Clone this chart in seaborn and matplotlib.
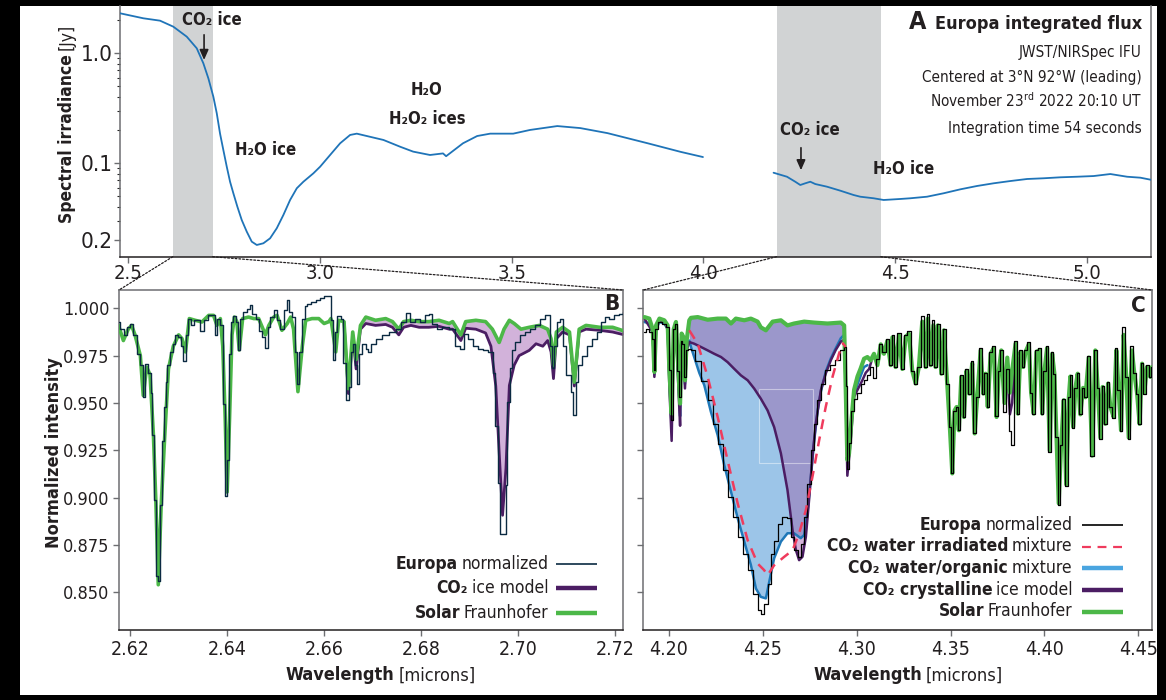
import numpy as np
import matplotlib
matplotlib.use("Agg")
import matplotlib.pyplot as plt
import seaborn as sns
from matplotlib.patches import ConnectionPatch, Rectangle
from matplotlib.lines import Line2D
from matplotlib.ticker import FixedLocator, LogLocator, NullFormatter

# ------------------------------------------------------------------ data
# Panel A: Europa integrated flux (Jy)
a_wl_1 = [2.4783, 2.5391, 2.5827, 2.6174, 2.6524, 2.6785, 2.6957, 2.7088, 2.7218, 2.7307,
          2.7393, 2.7479, 2.7568, 2.7654, 2.7740, 2.7845, 2.7959, 2.8090, 2.8220, 2.8351,
          2.8523, 2.8698, 2.8873, 2.9045, 2.9220, 2.9395, 2.9567, 2.9828, 3.0003, 3.0264,
          3.0525, 3.0786, 3.0960, 3.1221, 3.1655, 3.2090, 3.2430, 3.2870, 3.3210, 3.3290,
          3.3730, 3.4100, 3.4440, 3.5040, 3.5480, 3.6190, 3.6790, 3.7500, 3.8550, 3.9410,
          3.9990]
a_flux_1 = [2.31, 2.08, 1.979, 1.745, 1.416, 1.11, 0.811, 0.592, 0.403, 0.285,
            0.186, 0.132, 0.0931, 0.068, 0.0534, 0.0403, 0.0305, 0.0239, 0.0194, 0.0181,
            0.01875, 0.0208, 0.0257, 0.0339, 0.0464, 0.0593, 0.068, 0.0811, 0.0931, 0.119,
            0.152, 0.181, 0.186, 0.177, 0.163, 0.1415, 0.1277, 0.119, 0.123, 0.116,
            0.152, 0.177, 0.186, 0.186, 0.201, 0.218, 0.209, 0.188, 0.152, 0.127,
            0.114]
a_wl_2 = [4.1832, 4.2182, 4.2398, 4.2529, 4.2659, 4.2790, 4.2920, 4.3225, 4.3572, 4.3920,
          4.4094, 4.4442, 4.4703, 4.5139, 4.5399, 4.5835, 4.6268, 4.6704, 4.7139, 4.7572,
          4.8009, 4.8445, 4.8878, 4.9314, 4.9749, 5.0183, 5.0618, 5.1054, 5.1401, 5.1707]
a_flux_2 = [0.0821, 0.0755, 0.068, 0.0635, 0.0658, 0.068, 0.0648, 0.0613, 0.0564, 0.0515,
            0.0497, 0.0481, 0.0464, 0.0474, 0.0481, 0.0497, 0.0534, 0.058, 0.0622, 0.0658,
            0.069, 0.072, 0.0731, 0.0746, 0.0755, 0.0766, 0.0799, 0.0755, 0.074, 0.0705]
a_xticks = [2.5, 3.0, 3.5, 4.0, 4.5, 5.0]
a_xticklabels = ["2.5", "3.0", "3.5", "4.0", "4.5", "5.0"]
a_yticks = [1.0, 0.1, 0.02]
a_yticklabels = ["1.0", "0.1", "0.2"]
span_b = [2.616, 2.720]
span_c = [4.191, 4.463]

# Panel B
b_solar_wl = [2.6176, 2.6186, 2.6196, 2.6203, 2.6210, 2.6221, 2.6227, 2.6234, 2.6241, 2.6248,
              2.6253, 2.6258, 2.6264, 2.6271, 2.6279, 2.6289, 2.6300, 2.6307, 2.6314, 2.6322,
              2.6334, 2.6348, 2.6362, 2.6372, 2.6379, 2.6386, 2.6391, 2.6396, 2.6400, 2.6405,
              2.6410, 2.6415, 2.6420, 2.6425, 2.6432, 2.6444, 2.6455, 2.6465, 2.6479, 2.6486,
              2.6496, 2.6503, 2.6513, 2.6524, 2.6531, 2.6537, 2.6546, 2.6555, 2.6562, 2.6575,
              2.6589, 2.6600, 2.6610, 2.6614, 2.6624, 2.6630, 2.6641, 2.6650, 2.6659, 2.6666,
              2.6675, 2.6686, 2.6706, 2.6727, 2.6741, 2.6754, 2.6764, 2.6779, 2.6796, 2.6816,
              2.6837, 2.6858, 2.6865, 2.6882, 2.6892, 2.6913, 2.6933, 2.6947, 2.6961, 2.6971,
              2.6982, 2.6992, 2.7006, 2.7023, 2.7044, 2.7061, 2.7068, 2.7073, 2.7079, 2.7092,
              2.7106, 2.7116, 2.7126, 2.7140, 2.7168, 2.7195, 2.7219]
b_solar = [0.991, 0.983, 0.989, 0.991, 0.986, 0.975, 0.954, 0.969, 0.965, 0.933,
           0.898, 0.854, 0.896, 0.931, 0.968, 0.980, 0.986, 0.984, 0.977, 0.9946,
           0.9937, 0.9928, 0.9963, 0.9963, 0.991, 0.9946, 0.980, 0.942, 0.903, 0.942,
           0.986, 0.9954, 0.993, 0.978, 0.9946, 0.9954, 0.9946, 0.9946, 0.986, 0.991,
           0.9954, 0.9963, 0.9884, 0.992, 0.9954, 0.989, 0.956, 0.980, 0.9937, 0.9946,
           0.9946, 0.992, 0.993, 0.9946, 0.977, 0.9937, 0.993, 0.9576, 0.9875, 0.973,
           0.991, 0.9954, 0.9937, 0.9946, 0.993, 0.989, 0.993, 0.9937, 0.993, 0.993,
           0.9937, 0.992, 0.993, 0.986, 0.993, 0.9937, 0.993, 0.989, 0.982, 0.989,
           0.9937, 0.992, 0.989, 0.990, 0.991, 0.989, 0.984, 0.970, 0.9875, 0.990,
           0.9875, 0.961, 0.989, 0.991, 0.990, 0.990, 0.988]
b_co2_wl = [2.6641, 2.6650, 2.6659, 2.6666, 2.6675, 2.6686, 2.6706, 2.6727, 2.6741, 2.6754,
            2.6764, 2.6779, 2.6796, 2.6816, 2.6837, 2.6858, 2.6865, 2.6882, 2.6892, 2.6913,
            2.6933, 2.6944, 2.6954, 2.6961, 2.6968, 2.6975, 2.6982, 2.6992, 2.7002, 2.7023,
            2.7037, 2.7051, 2.7061, 2.7068, 2.7073, 2.7079, 2.7092, 2.7106, 2.7116, 2.7126,
            2.7140, 2.7168, 2.7195, 2.7219]
b_co2 = [0.993, 0.955, 0.986, 0.968, 0.989, 0.992, 0.991, 0.9915, 0.990, 0.986,
         0.990, 0.991, 0.990, 0.990, 0.9905, 0.989, 0.989, 0.983, 0.9895, 0.989,
         0.987, 0.980, 0.959, 0.924, 0.8907, 0.9155, 0.9593, 0.970, 0.975, 0.9778,
         0.9813, 0.980, 0.983, 0.977, 0.9629, 0.984, 0.9875, 0.986, 0.959, 0.9875,
         0.989, 0.9884, 0.9875, 0.986]
b_europa_wl = [2.6176, 2.6183, 2.6190, 2.6196, 2.6203, 2.6210, 2.6217, 2.6224, 2.6227, 2.6234,
               2.6241, 2.6244, 2.6248, 2.6251, 2.6255, 2.6260, 2.6264, 2.6269, 2.6272, 2.6275,
               2.6279, 2.6284, 2.6291, 2.6296, 2.6303, 2.6307, 2.6312, 2.6317, 2.6322, 2.6327,
               2.6338, 2.6349, 2.6356, 2.6365, 2.6372, 2.6376, 2.6382, 2.6389, 2.6394, 2.6398,
               2.6401, 2.6405, 2.6410, 2.6415, 2.6420, 2.6423, 2.6429, 2.6437, 2.6444, 2.6449,
               2.6455, 2.6462, 2.6468, 2.6475, 2.6482, 2.6486, 2.6492, 2.6500, 2.6506, 2.6513,
               2.6520, 2.6525, 2.6531, 2.6537, 2.6542, 2.6546, 2.6551, 2.6558, 2.6562, 2.6569,
               2.6578, 2.6589, 2.6596, 2.6603, 2.6614, 2.6615, 2.6620, 2.6624, 2.6631, 2.6637,
               2.6642, 2.6648, 2.6653, 2.6658, 2.6662, 2.6666, 2.6669, 2.6675, 2.6682, 2.6689,
               2.6693, 2.6700, 2.6713, 2.6727, 2.6741, 2.6755, 2.6764, 2.6773, 2.6782, 2.6792,
               2.6803, 2.6813, 2.6820, 2.6827, 2.6837, 2.6851, 2.6865, 2.6875, 2.6885, 2.6892,
               2.6903, 2.6913, 2.6923, 2.6934, 2.6944, 2.6951, 2.6955, 2.6961, 2.6966, 2.6973,
               2.6976, 2.6980, 2.6985, 2.6989, 2.6999, 2.7009, 2.7020, 2.7030, 2.7040, 2.7051,
               2.7058, 2.7063, 2.7068, 2.7073, 2.7077, 2.7082, 2.7089, 2.7096, 2.7100, 2.7106,
               2.7111, 2.7117, 2.7121, 2.7126, 2.7137, 2.7147, 2.7158, 2.7168, 2.7176, 2.7182,
               2.7192, 2.7203, 2.7213, 2.7219]
b_europa = [0.9928, 0.989, 0.986, 0.990, 0.992, 0.986, 0.976, 0.970, 0.953, 0.9705,
            0.966, 0.9555, 0.933, 0.899, 0.8586, 0.856, 0.896, 0.930, 0.948, 0.961,
            0.970, 0.977, 0.981, 0.986, 0.985, 0.980, 0.972, 0.986, 0.9946, 0.991,
            0.9937, 0.988, 0.9937, 0.9966, 0.9963, 0.986, 0.9946, 0.991, 0.9497, 0.9007,
            0.9198, 0.9757, 0.993, 0.996, 0.993, 0.978, 0.9946, 0.998, 0.9998, 1.0016,
            0.997, 0.9946, 0.988, 0.985, 0.979, 0.990, 0.9954, 0.999, 0.9937, 0.989,
            0.999, 1.0045, 0.998, 0.9954, 0.977, 0.960, 0.977, 0.9946, 1.0012, 1.0025,
            1.0034, 1.0045, 1.0054, 1.0063, 1.0063, 0.9937, 0.9727, 0.9875, 0.996, 0.9946,
            0.9709, 0.9515, 0.9585, 0.977, 0.9813, 0.970, 0.960, 0.9757, 0.981, 0.9786,
            0.977, 0.9813, 0.984, 0.986, 0.9875, 0.989, 0.993, 0.9975, 0.993, 0.9946,
            0.993, 0.9963, 0.997, 0.992, 0.989, 0.990, 0.989, 0.980, 0.9787, 0.9867,
            0.984, 0.980, 0.9787, 0.978, 0.977, 0.966, 0.938, 0.908, 0.881, 0.881,
            0.9067, 0.9507, 0.9683, 0.978, 0.9823, 0.986, 0.9875, 0.989, 0.991, 0.9946,
            0.9963, 0.9963, 0.980, 0.9683, 0.980, 0.993, 0.9946, 0.980, 0.965, 0.965,
            0.956, 0.9436, 0.961, 0.970, 0.975, 0.980, 0.984, 0.9875, 0.993, 0.9954,
            0.9946, 0.9963, 0.997, 0.998]
b_yticks = [0.850, 0.875, 0.900, 0.925, 0.950, 0.975, 1.000]
b_yticklabels = ["0.850", "0.875", "0.900", "0.925", "0.950", "0.975", "1.000"]
b_xticks = [2.62, 2.64, 2.66, 2.68, 2.70, 2.72]
b_xticklabels = ["2.62", "2.64", "2.66", "2.68", "2.70", "2.72"]

# Panel C
c_solar_wl = [4.1869, 4.1895, 4.1913, 4.1922, 4.1931, 4.1949, 4.1975, 4.1993, 4.2002, 4.2014,
              4.2025, 4.2037, 4.2050, 4.2059, 4.2067, 4.2076, 4.2085, 4.2094, 4.2108, 4.2117,
              4.2153, 4.2206, 4.2259, 4.2303, 4.2330, 4.2356, 4.2401, 4.2436, 4.2472, 4.2489,
              4.2516, 4.2552, 4.2596, 4.2631, 4.2666, 4.2720, 4.2773, 4.2844, 4.2915, 4.2933,
              4.2941, 4.2950, 4.2959, 4.2972, 4.2986, 4.3004, 4.3021, 4.3039, 4.3057, 4.3074,
              4.3092, 4.3110, 4.3128, 4.3145, 4.3163, 4.3181, 4.3190, 4.3207, 4.3225, 4.3243,
              4.3261, 4.3278, 4.3296, 4.3314, 4.3331, 4.3349, 4.3367, 4.3379, 4.3394, 4.3408,
              4.3420, 4.3432, 4.3451, 4.3464, 4.3482, 4.3496, 4.3509, 4.3521, 4.3532, 4.3544,
              4.3557, 4.3571, 4.3585, 4.3600, 4.3615, 4.3628, 4.3642, 4.3660, 4.3674, 4.3686,
              4.3698, 4.3713, 4.3730, 4.3745, 4.3757, 4.3770, 4.3787, 4.3802, 4.3816, 4.3828,
              4.3846, 4.3858, 4.3872, 4.3887, 4.3899, 4.3917, 4.3929, 4.3943, 4.3957, 4.3975,
              4.3988, 4.4000, 4.4014, 4.4028, 4.4041, 4.4053, 4.4064, 4.4076, 4.4089, 4.4103,
              4.4116, 4.4130, 4.4138, 4.4153, 4.4165, 4.4177, 4.4191, 4.4206, 4.4218, 4.4236,
              4.4254, 4.4271, 4.4284, 4.4298, 4.4310, 4.4324, 4.4339, 4.4351, 4.4369, 4.4383,
              4.4395, 4.4408, 4.4422, 4.4436, 4.4449, 4.4466, 4.4479, 4.4493, 4.4507, 4.4520,
              4.4532, 4.4546, 4.4564, 4.4573]
c_solar = [0.9954, 0.9946, 0.989, 0.9664, 0.991, 0.9946, 0.9937, 0.991, 0.9672, 0.9444,
           0.989, 0.9928, 0.967, 0.9497, 0.9867, 0.985, 0.962, 0.983, 0.9937, 0.995,
           0.9954, 0.994, 0.9946, 0.9946, 0.992, 0.9946, 0.9937, 0.9946, 0.993, 0.990,
           0.9884, 0.993, 0.9937, 0.991, 0.992, 0.993, 0.9925, 0.992, 0.9925, 0.991,
           0.9588, 0.920, 0.9233, 0.941, 0.957, 0.964, 0.9683, 0.9734, 0.9743, 0.9725,
           0.976, 0.970, 0.981, 0.976, 0.9828, 0.970, 0.9847, 0.969, 0.9857, 0.968,
           0.985, 0.9866, 0.967, 0.9603, 0.969, 0.993, 0.969, 0.9946, 0.970, 0.991,
           0.969, 0.991, 0.9655, 0.9884, 0.9603, 0.9374, 0.9128, 0.946, 0.9479, 0.9356,
           0.9638, 0.9426, 0.967, 0.955, 0.9708, 0.9339, 0.9532, 0.9778, 0.955, 0.9655,
           0.948, 0.976, 0.979, 0.9426, 0.967, 0.9778, 0.950, 0.974, 0.9555, 0.967,
           0.9813, 0.9444, 0.977, 0.969, 0.977, 0.981, 0.9555, 0.9444, 0.977, 0.978,
           0.9444, 0.967, 0.979, 0.925, 0.976, 0.9655, 0.932, 0.897, 0.928, 0.9515,
           0.907, 0.9532, 0.964, 0.9374, 0.958, 0.9655, 0.944, 0.958, 0.953, 0.974,
           0.9222, 0.9778, 0.958, 0.9317, 0.9585, 0.939, 0.9603, 0.948, 0.9426, 0.9778,
           0.957, 0.9356, 0.986, 0.9638, 0.9317, 0.9778, 0.9655, 0.9555, 0.939, 0.9708,
           0.9555, 0.969, 0.9638, 0.969]
c_europa_wl = [4.1869, 4.1887, 4.1904, 4.1913, 4.1922, 4.1931, 4.1949, 4.1975, 4.1993, 4.2002,
               4.2014, 4.2025, 4.2037, 4.2050, 4.2059, 4.2067, 4.2076, 4.2085, 4.2094, 4.2108,
               4.2126, 4.2153, 4.2188, 4.2223, 4.2250, 4.2277, 4.2303, 4.2330, 4.2356, 4.2383,
               4.2410, 4.2436, 4.2463, 4.2480, 4.2499, 4.2516, 4.2534, 4.2552, 4.2569, 4.2596,
               4.2613, 4.2640, 4.2658, 4.2676, 4.2693, 4.2711, 4.2729, 4.2746, 4.2764, 4.2782,
               4.2800, 4.2818, 4.2844, 4.2871, 4.2897, 4.2924, 4.2936, 4.2945, 4.2954, 4.2964,
               4.2977, 4.2995, 4.3012, 4.3030, 4.3048, 4.3066, 4.3078, 4.3096, 4.3113, 4.3128,
               4.3145, 4.3163, 4.3181, 4.3190, 4.3207, 4.3225, 4.3243, 4.3261, 4.3278, 4.3296,
               4.3314, 4.3331, 4.3349, 4.3367, 4.3379, 4.3394, 4.3408, 4.3420, 4.3432, 4.3451,
               4.3464, 4.3482, 4.3496, 4.3509, 4.3521, 4.3532, 4.3544, 4.3557, 4.3571, 4.3585,
               4.3600, 4.3615, 4.3628, 4.3642, 4.3660, 4.3674, 4.3686, 4.3698, 4.3713, 4.3730,
               4.3745, 4.3757, 4.3770, 4.3787, 4.3802, 4.3816, 4.3828, 4.3846, 4.3858, 4.3872,
               4.3887, 4.3899, 4.3917, 4.3929, 4.3943, 4.3957, 4.3975, 4.3988, 4.4000, 4.4014,
               4.4028, 4.4041, 4.4053, 4.4064, 4.4076, 4.4089, 4.4103, 4.4116, 4.4130, 4.4138,
               4.4153, 4.4165, 4.4177, 4.4191, 4.4206, 4.4218, 4.4236, 4.4254, 4.4271, 4.4284,
               4.4298, 4.4310, 4.4324, 4.4339, 4.4351, 4.4369, 4.4383, 4.4395, 4.4408, 4.4422,
               4.4436, 4.4449, 4.4466, 4.4479, 4.4493, 4.4507, 4.4520, 4.4532, 4.4546, 4.4564,
               4.4573]
c_europa = [0.9875, 0.989, 0.9875, 0.984, 0.9672, 0.989, 0.993, 0.992, 0.990, 0.9672,
            0.941, 0.989, 0.992, 0.967, 0.953, 0.983, 0.981, 0.9637, 0.9778, 0.9787,
            0.9778, 0.972, 0.9617, 0.9515, 0.939, 0.9286, 0.9145, 0.9004, 0.8898, 0.8793,
            0.8705, 0.8617, 0.849, 0.8405, 0.8388, 0.844, 0.8546, 0.8705, 0.877, 0.8862,
            0.8898, 0.8890, 0.8793, 0.8722, 0.8687, 0.8757, 0.8898, 0.9074, 0.9250, 0.939,
            0.9515, 0.9603, 0.9672, 0.970, 0.9726, 0.9778, 0.9796, 0.9589, 0.915, 0.929,
            0.946, 0.952, 0.9555, 0.960, 0.9621, 0.9647, 0.969, 0.963, 0.9734, 0.981,
            0.977, 0.984, 0.970, 0.986, 0.969, 0.987, 0.968, 0.986, 0.988, 0.967,
            0.9603, 0.969, 0.996, 0.969, 0.997, 0.970, 0.994, 0.969, 0.992, 0.9655,
            0.989, 0.9603, 0.9374, 0.913, 0.946, 0.948, 0.9356, 0.965, 0.9426, 0.968,
            0.955, 0.972, 0.934, 0.953, 0.979, 0.955, 0.966, 0.948, 0.977, 0.980,
            0.943, 0.967, 0.978, 0.945, 0.968, 0.935, 0.928, 0.983, 0.9444, 0.978,
            0.969, 0.978, 0.982, 0.9555, 0.944, 0.978, 0.979, 0.944, 0.967, 0.980,
            0.924, 0.977, 0.9655, 0.932, 0.896, 0.928, 0.952, 0.906, 0.953, 0.965,
            0.937, 0.958, 0.966, 0.944, 0.958, 0.953, 0.975, 0.922, 0.978, 0.958,
            0.931, 0.959, 0.939, 0.961, 0.948, 0.942, 0.979, 0.957, 0.935, 0.990,
            0.964, 0.931, 0.980, 0.966, 0.955, 0.939, 0.971, 0.955, 0.970, 0.964,
            0.969]
c_org_wl = [4.1869, 4.1895, 4.1913, 4.1922, 4.1931, 4.1949, 4.1975, 4.1993, 4.2002, 4.2014,
            4.2025, 4.2037, 4.2050, 4.2059, 4.2067, 4.2076, 4.2085, 4.2094, 4.2108, 4.2117,
            4.2135, 4.2161, 4.2188, 4.2223, 4.2259, 4.2294, 4.2330, 4.2366, 4.2401, 4.2436,
            4.2463, 4.2489, 4.2516, 4.2534, 4.2560, 4.2596, 4.2631, 4.2666, 4.2702, 4.2720,
            4.2738, 4.2755, 4.2773, 4.2791, 4.2809, 4.2835, 4.2862, 4.2888, 4.2915, 4.2933,
            4.2941, 4.2950, 4.2964, 4.2986, 4.3012, 4.3039, 4.3057]
c_org = [0.9928, 0.992, 0.987, 0.965, 0.989, 0.9928, 0.992, 0.989, 0.962, 0.937,
         0.988, 0.991, 0.962, 0.943, 0.985, 0.983, 0.960, 0.981, 0.983, 0.9796,
         0.974, 0.966, 0.9594, 0.9454, 0.9331, 0.9173, 0.9032, 0.8891, 0.8768, 0.8645,
         0.852, 0.8476, 0.8468, 0.8556, 0.868, 0.8768, 0.8812, 0.8812, 0.8786, 0.8803,
         0.8926, 0.9102, 0.9296, 0.9454, 0.956, 0.9666, 0.9736, 0.9789, 0.9842, 0.986,
         0.967, 0.9187, 0.934, 0.955, 0.962, 0.969, 0.970]
c_co2_wl = [4.1869, 4.1913, 4.1922, 4.1931, 4.1949, 4.1975, 4.1993, 4.2002, 4.2014, 4.2025,
            4.2037, 4.2050, 4.2059, 4.2067, 4.2076, 4.2085, 4.2094, 4.2108, 4.2135, 4.2170,
            4.2206, 4.2241, 4.2277, 4.2312, 4.2347, 4.2383, 4.2419, 4.2454, 4.2489, 4.2525,
            4.2560, 4.2596, 4.2631, 4.2658, 4.2676, 4.2693, 4.2711, 4.2729, 4.2746, 4.2764,
            4.2782, 4.2809, 4.2835, 4.2862, 4.2888, 4.2915, 4.2933, 4.2941, 4.2950, 4.2964,
            4.2986, 4.3012, 4.3030, 4.3048, 4.3066, 4.3078]
c_co2 = [0.9946, 0.9875, 0.9638, 0.990, 0.9937, 0.993, 0.989, 0.958, 0.930, 0.9875,
         0.991, 0.958, 0.938, 0.983, 0.9796, 0.9577, 0.9778, 0.9822, 0.9813, 0.9796,
         0.9778, 0.976, 0.9743, 0.9716, 0.9681, 0.9646, 0.962, 0.9576, 0.9523, 0.9461,
         0.9373, 0.9234, 0.9041, 0.8829, 0.8723, 0.8670, 0.8688, 0.8793, 0.8987, 0.9216,
         0.9392, 0.9568, 0.9656, 0.9726, 0.9780, 0.9824, 0.9833, 0.9588, 0.9116, 0.926,
         0.9533, 0.9585, 0.962, 0.966, 0.968, 0.972]
c_co2_wl2 = [4.3757, 4.3770, 4.3787, 4.3802, 4.3816, 4.3828, 4.3846]
c_co2_2 = [0.967, 0.975, 0.952, 0.966, 0.944, 0.950, 0.981]
c_irr_wl = [4.2108, 4.2153, 4.2206, 4.2259, 4.2312, 4.2366, 4.2419, 4.2472, 4.2507, 4.2525,
            4.2560, 4.2613, 4.2658, 4.2693, 4.2729, 4.2764, 4.2800, 4.2835, 4.2871, 4.2906,
            4.2927, 4.2941]
c_irr = [0.9884, 0.9813, 0.9638, 0.9427, 0.9198, 0.8969, 0.8775, 0.8652, 0.8617, 0.859,
         0.8643, 0.8687, 0.8722, 0.8811, 0.8934, 0.911, 0.9304, 0.9480, 0.9638, 0.9762,
         0.9815, 0.9796]
c_xticks = [4.20, 4.25, 4.30, 4.35, 4.40, 4.45]
c_xticklabels = ["4.20", "4.25", "4.30", "4.35", "4.40", "4.45"]

# ------------------------------------------------------------------ style
sns.set_theme(style="ticks")
FAM = ["Liberation Sans Narrow", "DejaVu Sans"]
plt.rcParams["font.family"] = FAM
plt.rcParams["font.stretch"] = "condensed"
plt.rcParams["mathtext.fontset"] = "custom"
plt.rcParams["mathtext.rm"] = "DejaVu Sans"
plt.rcParams["mathtext.bf"] = "DejaVu Sans:bold"
plt.rcParams["mathtext.it"] = "DejaVu Sans:italic"

W, H = 1166, 700
TXT = "#231f20"
SPINE = "#6d6e71"
C_TOP = "#1f74b8"
C_GREEN = "#4cb848"
C_PURPLE = "#4b1d63"
C_BLUE = "#1f78b8"
C_BLUE_H = "#4aa5e0"
C_RED = "#ef3b5d"
C_EUR_B = "#0b2a42"


def fx(px):
    return px / W


def fy(py):
    return 1 - py / H


fig = plt.figure(figsize=(W / 100, H / 100), dpi=100, facecolor="black")
fig.add_artist(Rectangle((fx(20), fy(695)), (1157 - 20) / W, (695 - 6) / H,
                         transform=fig.transFigure, facecolor="white",
                         edgecolor="none", zorder=-5))

axA = fig.add_axes([fx(120), fy(256.7), (1151 - 120) / W, (256.7 - 6) / H])
axB = fig.add_axes([fx(119), fy(630), (623.3 - 119) / W, (630 - 290) / H])
axC = fig.add_axes([fx(643.3), fy(630), (1152 - 643.3) / W, (630 - 290) / H])

for ax in (axA, axB, axC):
    ax.set_facecolor("white")
    for s in ax.spines.values():
        s.set_color(SPINE)
        s.set_linewidth(1.1)
    ax.spines["bottom"].set_color(TXT)
    ax.tick_params(colors=SPINE, labelcolor=TXT, direction="out")
axA.spines["top"].set_visible(False)

# ------------------------------------------------------------------ panel A
axA.set_yscale("log")
axA.axvspan(span_b[0], span_b[1], color="#d1d3d4", lw=0, zorder=0)
axA.axvspan(span_c[0], span_c[1], color="#d1d3d4", lw=0, zorder=0)
sns.lineplot(x=a_wl_1, y=a_flux_1, ax=axA, color=C_TOP, linewidth=1.3,
             estimator=None, sort=False, zorder=3)
sns.lineplot(x=a_wl_2, y=a_flux_2, ax=axA, color=C_TOP, linewidth=1.3,
             estimator=None, sort=False, zorder=3)
axA.set_xlim(2.4783, 5.1678)
axA.set_ylim(0.01416, 2.69)
axA.xaxis.set_major_locator(FixedLocator(a_xticks))
axA.set_xticklabels(a_xticklabels)
axA.yaxis.set_major_locator(FixedLocator(a_yticks))
axA.set_yticklabels(a_yticklabels)
axA.yaxis.set_minor_locator(LogLocator(base=10, subs=np.arange(2, 10)))
axA.yaxis.set_minor_formatter(NullFormatter())
axA.tick_params(axis="x", which="major", labelsize=14.5, length=4, width=1, pad=1)
axA.tick_params(axis="y", which="major", labelsize=16, length=4, width=1, pad=1.5)
axA.tick_params(axis="y", which="minor", length=2.5, width=0.8)
axA.set_xlabel("")
axA.set_ylabel("")

axA.annotate("", xy=(2.6976, 0.82), xytext=(2.6976, 1.56),
             arrowprops=dict(arrowstyle="-|>,head_length=0.5,head_width=0.22",
                             color=TXT, lw=1.2), zorder=5)
axA.annotate("", xy=(4.2547, 0.0816), xytext=(4.2547, 0.1467),
             arrowprops=dict(arrowstyle="-|>,head_length=0.5,head_width=0.22",
                             color=TXT, lw=1.2), zorder=5)

# ------------------------------------------------------------------ panel B
bgrid = np.union1d(b_solar_wl, b_co2_wl)
bgrid = bgrid[(bgrid >= b_co2_wl[0]) & (bgrid <= b_co2_wl[-1])]
bs = np.interp(bgrid, b_solar_wl, b_solar)
bc = np.interp(bgrid, b_co2_wl, b_co2)
axB.fill_between(bgrid, bc, bs, where=bs >= bc, interpolate=True,
                 color="#d2b2da", lw=0, zorder=1)
sns.lineplot(x=b_co2_wl, y=b_co2, ax=axB, color=C_PURPLE, linewidth=2.0,
             estimator=None, sort=False, zorder=2)
sns.lineplot(x=b_solar_wl, y=b_solar, ax=axB, color=C_GREEN, linewidth=2.6,
             estimator=None, sort=False, zorder=3)
sns.lineplot(x=b_europa_wl, y=b_europa, ax=axB, color=C_EUR_B, linewidth=1.0,
             drawstyle="steps-mid", estimator=None, sort=False, zorder=4)
axB.set_xlim(2.6177, 2.7217)
axB.set_ylim(0.8301, 1.0097)
axB.xaxis.set_major_locator(FixedLocator(b_xticks))
axB.set_xticklabels(b_xticklabels)
axB.yaxis.set_major_locator(FixedLocator(b_yticks))
axB.set_yticklabels(b_yticklabels)
axB.tick_params(axis="x", labelsize=14, length=4.5, width=1, pad=2.5)
axB.tick_params(axis="y", labelsize=13, length=4.5, width=1, pad=2.5)
axB.set_xlabel("")
axB.set_ylabel("")

# ------------------------------------------------------------------ panel C
cgrid = np.union1d(np.union1d(c_solar_wl, c_org_wl), c_co2_wl)
cgrid = cgrid[(cgrid >= 4.2108) & (cgrid <= 4.2945)]
cs = np.interp(cgrid, c_solar_wl, c_solar)
cp = np.interp(cgrid, c_co2_wl, c_co2)
cb = np.interp(cgrid, c_org_wl, c_org)
axC.fill_between(cgrid, cp, cs, where=cs >= cp, interpolate=True,
                 color="#9b97cb", lw=0, zorder=1)
axC.fill_between(cgrid, cb, cp, where=cp >= cb, interpolate=True,
                 color="#9cc5e8", lw=0, zorder=1)
axC.fill_between(cgrid, cp, cb, where=cb >= cp, interpolate=True,
                 color="#d5b3da", lw=0, zorder=1)
axC.add_patch(Rectangle((4.2479, 0.9181), 4.2766 - 4.2479, 0.9572 - 0.9181,
                        fill=False, edgecolor="white", lw=0.8, alpha=0.45, zorder=1.5))
sns.lineplot(x=c_org_wl, y=c_org, ax=axC, color=C_BLUE, linewidth=1.8,
             estimator=None, sort=False, zorder=2)
sns.lineplot(x=c_co2_wl, y=c_co2, ax=axC, color=C_PURPLE, linewidth=1.8,
             estimator=None, sort=False, zorder=2.5)
sns.lineplot(x=c_co2_wl2, y=c_co2_2, ax=axC, color=C_PURPLE, linewidth=1.8,
             estimator=None, sort=False, zorder=2.5)
sns.lineplot(x=c_solar_wl, y=c_solar, ax=axC, color=C_GREEN, linewidth=3.0,
             estimator=None, sort=False, zorder=3)
sns.lineplot(x=c_europa_wl, y=c_europa, ax=axC, color="black", linewidth=0.9,
             drawstyle="steps-mid", estimator=None, sort=False, zorder=4)
sns.lineplot(x=c_irr_wl, y=c_irr, ax=axC, color=C_RED, linewidth=1.8,
             linestyle=(0, (4, 3)), estimator=None, sort=False, zorder=5)
axC.set_xlim(4.1863, 4.4573)
axC.set_ylim(0.8301, 1.0097)
axC.xaxis.set_major_locator(FixedLocator(c_xticks))
axC.set_xticklabels(c_xticklabels)
axC.yaxis.set_major_locator(FixedLocator(b_yticks))
axC.set_yticklabels([])
axC.tick_params(axis="both", labelsize=14, length=4.5, width=1, pad=2.5)
axC.set_xlabel("")
axC.set_ylabel("")

# ------------------------------------------------------------------ connectors
for xa, axT, xb in ((span_b[0], axB, 0), (span_b[1], axB, 1),
                    (span_c[0], axC, 0), (span_c[1], axC, 1)):
    con = ConnectionPatch(xyA=(xa, 0), coordsA=axA.get_xaxis_transform(),
                          xyB=(xb, 1), coordsB=axT.transAxes,
                          color=TXT, lw=0.9, linestyle=(0, (1.5, 1.5)), zorder=6)
    fig.add_artist(con)

# ------------------------------------------------------------------ texts
renderer = fig.canvas.get_renderer()


def width(t):
    return t.get_window_extent(renderer).width


def right_pair(xr, yb, bold, reg, size, gap=3.5):
    t2 = fig.text(fx(xr), fy(yb), reg, ha="right", va="baseline", fontsize=size, color=TXT)
    w = width(t2)
    fig.text(fx(xr - w - gap), fy(yb), bold, ha="right", va="baseline",
             fontsize=size, fontweight="bold", color=TXT)


def center_pair(xc, yb, bold, reg, size, gap=4.0):
    t1 = fig.text(0, fy(yb), bold, ha="left", va="baseline", fontsize=size,
                  fontweight="bold", color=TXT)
    t2 = fig.text(0, fy(yb), reg, ha="left", va="baseline", fontsize=size, color=TXT)
    w1, w2 = width(t1), width(t2)
    x0 = xc - (w1 + gap + w2) / 2
    t1.set_x(fx(x0))
    t2.set_x(fx(x0 + w1 + gap))


def btext(xc, yb, s, size, ha="center"):
    fig.text(fx(xc), fy(yb), s, ha=ha, va="baseline", fontsize=size,
             fontweight="bold", color=TXT)


# panel A annotations
btext(212, 25, "CO₂ ice", 12)
btext(266, 155, "H₂O ice", 12)
btext(427, 95, "H₂O", 12)
btext(427, 124, "H₂O₂ ices", 12)
btext(810, 135, "CO₂ ice", 12)
btext(904, 174, "H₂O ice", 12)

tA = fig.text(fx(1142), fy(29.3), "Europa integrated flux", ha="right", va="baseline",
              fontsize=13, fontweight="bold", color=TXT)
fig.text(fx(1142 - width(tA) - 8), fy(29.3), "A", ha="right", va="baseline",
         fontsize=18, fontweight="bold", color=TXT)
for yb, s in ((56.7, "JWST/NIRSpec IFU"),
              (81.7, "Centered at 3°N 92°W (leading)"),
              (107, r"November 23$^{\mathrm{rd}}$ 2022 20:10 UT"),
              (133, "Integration time 54 seconds")):
    fig.text(fx(1142), fy(yb), s, ha="right", va="baseline", fontsize=11, color=TXT)

# y labels
tS = fig.text(fx(72), fy(223), "Spectral irradiance", rotation=90, rotation_mode="anchor",
              ha="left", va="baseline", fontsize=12.5, fontweight="bold", color=TXT)
hS = tS.get_window_extent(renderer).height
fig.text(fx(72), fy(223 - hS - 4), "[Jy]", rotation=90, rotation_mode="anchor",
         ha="left", va="baseline", fontsize=12.5, color=TXT)
fig.text(fx(59), fy(452.5), "Normalized intensity", rotation=90, rotation_mode="anchor",
         ha="center", va="baseline", fontsize=13, fontweight="bold", color=TXT)

# x labels
center_pair(380.5, 680.5, "Wavelength", "[microns]", 13)
center_pair(908, 680.5, "Wavelength", "[microns]", 13)

# panel letters
btext(612, 310, "B", 16)
btext(1138, 312, "C", 16)

# legend B
legB = [("Europa", "normalized", dict(color=C_EUR_B, lw=1.2)),
        ("CO₂", "ice model", dict(color=C_PURPLE, lw=3.2)),
        ("Solar", "Fraunhofer", dict(color=C_GREEN, lw=3.2))]
for i, (bo, rg, kw) in enumerate(legB):
    yl = 564 + 24.3 * i
    right_pair(548.3, yl + 5.0, bo, rg, 12.5)
    fig.add_artist(Line2D([fx(556), fx(597)], [fy(yl), fy(yl)], transform=fig.transFigure,
                          solid_capstyle="butt", **kw))

# legend C
legC = [("Europa", "normalized", dict(color="black", lw=1.2)),
        ("CO₂ water irradiated", "mixture", dict(color=C_RED, lw=1.6, linestyle=(0, (4, 3)))),
        ("CO₂ water/organic", "mixture", dict(color=C_BLUE_H, lw=3.2)),
        ("CO₂ crystalline", "ice model", dict(color=C_PURPLE, lw=3.2)),
        ("Solar", "Fraunhofer", dict(color=C_GREEN, lw=3.2))]
for i, (bo, rg, kw) in enumerate(legC):
    yl = 525 + 21.7 * i
    right_pair(1072.3, yl + 4.5, bo, rg, 12.5)
    fig.add_artist(Line2D([fx(1082), fx(1123)], [fy(yl), fy(yl)], transform=fig.transFigure,
                          solid_capstyle="butt", **kw))

fig.savefig("out.png", dpi=100, facecolor="black")
